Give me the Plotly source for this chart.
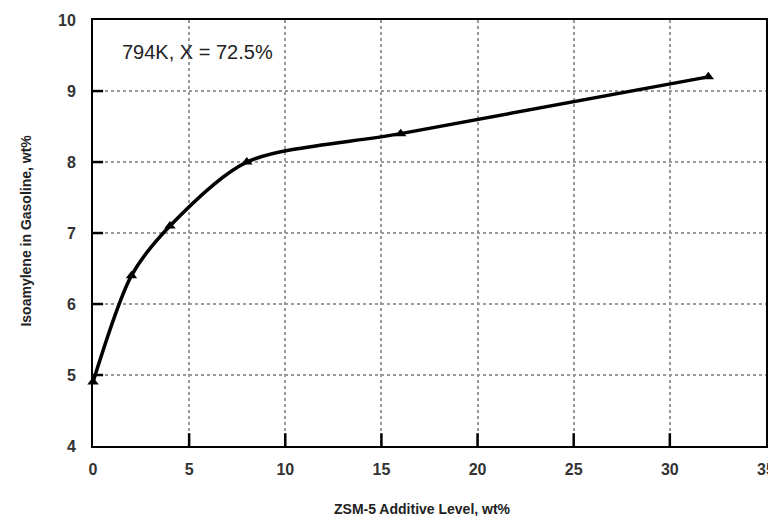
import plotly.graph_objects as go

additive = [0, 2, 4, 8, 16, 32]
isoamylene = [4.9, 6.4, 7.1, 8.0, 8.4, 9.2]
x_ticks = [0, 5, 10, 15, 20, 25, 30, 35]
y_ticks = [4, 5, 6, 7, 8, 9, 10]

fig = go.Figure()
fig.add_trace(go.Scatter(
    x=additive, y=isoamylene, mode="lines+markers",
    line=dict(color="black", width=3.5, shape="spline", smoothing=0.8),
    marker=dict(symbol="triangle-up", size=10, color="black"),
    showlegend=False, cliponaxis=False,
))

font = dict(family="Liberation Sans, Arial, sans-serif", color="#222")
axis_common = dict(
    showgrid=True, gridcolor="#999", griddash="dot", gridwidth=1.5,
    showline=True, linecolor="black", linewidth=2, mirror=True,
    ticks="", zeroline=False, automargin=False, layer="above traces",
    tickfont=dict(size=16, family="Liberation Sans, Arial, sans-serif", color="#333", weight=700),
)
fig.update_xaxes(range=[0, 35.001], tickvals=x_ticks, ticklabelstandoff=8,
                 ticklabeloverflow="allow", **axis_common)
fig.update_yaxes(range=[4, 10.001], tickvals=y_ticks, ticklabelstandoff=12, **axis_common)

# inside tick marks along the bottom and left axes
for v in x_ticks[1:-1]:
    fig.add_shape(type="line", xref="x", yref="y domain", x0=v, x1=v, y0=0, y1=0.03,
                  line=dict(color="black", width=2.5), layer="above")
for v in y_ticks[1:-1]:
    fig.add_shape(type="line", xref="x domain", yref="y", x0=0, x1=0.015, y0=v, y1=v,
                  line=dict(color="black", width=2.5), layer="above")

fig.update_layout(
    width=768, height=516,
    margin=dict(l=93, r=2, t=20, b=70, autoexpand=False),
    paper_bgcolor="white", plot_bgcolor="white",
    annotations=[
        dict(x=1.4, y=9.55, xref="x", yref="y", text="794K, X = 72.5%",
             showarrow=False, xanchor="left", yanchor="middle",
             font=dict(size=20, **font)),
        dict(x=0.49, y=-0.147, xref="paper", yref="paper", xanchor="center", yanchor="middle",
             text="ZSM-5 Additive Level, wt%", showarrow=False,
             font=dict(size=14, weight="bold", **font)),
        dict(x=-0.1, y=0.505, xref="paper", yref="paper", xanchor="center", yanchor="middle",
             text="Isoamylene in Gasoline, wt%", textangle=-90, showarrow=False,
             font=dict(size=14, weight="bold", **font)),
    ],
)

fig.write_html("out.html")
